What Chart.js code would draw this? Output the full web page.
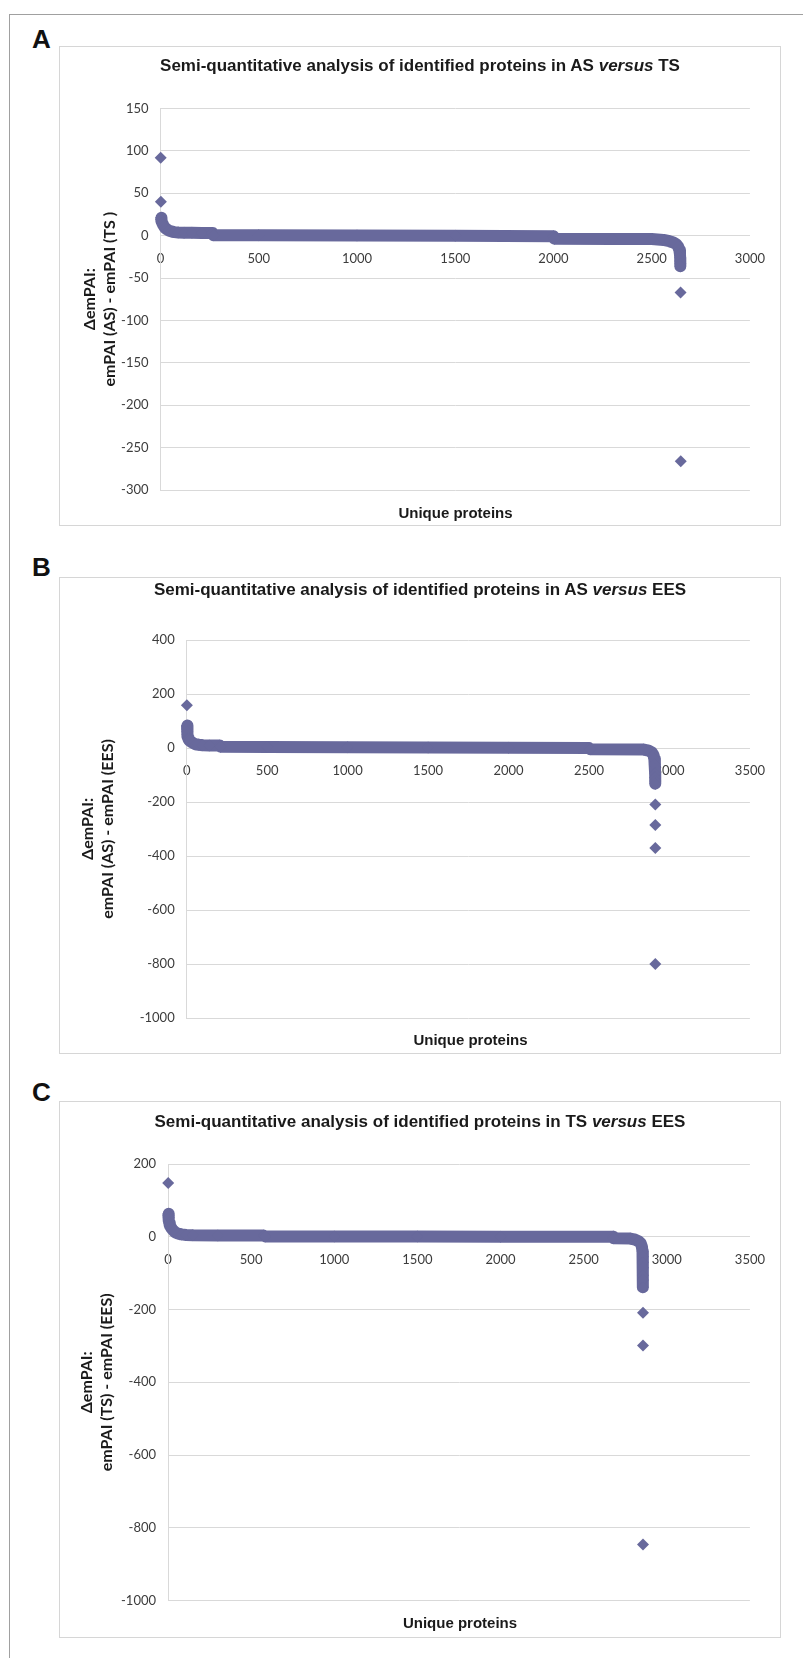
<!DOCTYPE html>
<html>
<head>
<meta charset="utf-8">
<title>Semi-quantitative analysis of identified proteins</title>
<script src="https://cdn.jsdelivr.net/npm/chart.js@4.4.1/dist/chart.umd.min.js"></script>
<style>
  body { margin: 0; background: #fff; }
  #page { position: relative; width: 803px; height: 1658px; overflow: hidden; }
  .frame { position: absolute; left: 9px; top: 14px; width: 900px; height: 1700px;
           border-left: 1px solid #a0a0a0; border-top: 1px solid #a0a0a0; }
  .letter { position: absolute; left: 32px; font: bold 26px/26px "Liberation Sans", Arial, sans-serif; color: #111; }
  .box { position: absolute; left: 59px; width: 720px; border: 1px solid #d6d6d6; background: #fff; }
  .box canvas { position: absolute; left: 0; top: 0; }
  .title { position: absolute; left: 0; width: 100%; text-align: center; color: #1a1a1a;
           font: bold 17px/20px "Liberation Sans Narrow", "Liberation Sans", Arial, sans-serif; }
  .xtitle { position: absolute; text-align: center; color: #1a1a1a;
            font: bold 15px/18px "Liberation Sans Narrow", "Liberation Sans", Arial, sans-serif; }
</style>
</head>
<body>
<div id="page">
  <div class="frame"></div>

  <div class="letter" style="top:26px">A</div>
  <div class="box" style="top:46px; height:478px">
    <canvas id="chartA" width="720" height="478"></canvas>
    <div class="title" style="top:9px">Semi-quantitative analysis of identified proteins in AS <i>versus</i> TS</div>
    <div class="xtitle" style="top:457px; left:100px; width:591px">Unique proteins</div>
  </div>

  <div class="letter" style="top:554px">B</div>
  <div class="box" style="top:577px; height:475px">
    <canvas id="chartB" width="720" height="475"></canvas>
    <div class="title" style="top:2px">Semi-quantitative analysis of identified proteins in AS <i>versus</i> EES</div>
    <div class="xtitle" style="top:453px; left:127px; width:567px">Unique proteins</div>
  </div>

  <div class="letter" style="top:1079px">C</div>
  <div class="box" style="top:1101px; height:535px">
    <canvas id="chartC" width="720" height="535"></canvas>
    <div class="title" style="top:10px">Semi-quantitative analysis of identified proteins in TS <i>versus</i> EES</div>
    <div class="xtitle" style="top:512px; left:108px; width:584px">Unique proteins</div>
  </div>
</div>

<script>
// marker colour and axis colours (Excel-like)
const markerColor = '#68699c';
const gridColor = '#d9d9d9';
const tickColor = '#3c3c3c';

// ---- panel A : AS versus TS ----
// proteins are ranked by their delta emPAI
const aRank  = [3, 4, 6, 9, 13, 18, 24, 32, 42, 55, 70, 90, 120, 160, 210, 265, 270, 500, 1000, 1500,
                2000, 2005, 2300, 2500, 2560, 2590, 2610, 2625, 2635, 2641, 2644, 2645, 2645, 2646, 2646];
const aDelta = [21, 19, 17, 15, 13, 11, 9, 7.5, 6, 5, 4.2, 3.8, 3.5, 3.3, 3.1, 3, 0.6, 0.4, 0.2, 0,
                -0.6, -3.5, -3.8, -4, -5, -6.5, -8, -10, -13, -17, -22, -26, -30, -33, -36];
const aOutRank  = [1, 2, 2647, 2648];
const aOutDelta = [92, 40, -67, -266];
const aTicksX = [0, 500, 1000, 1500, 2000, 2500, 3000];
const aTicksY = [-300, -250, -200, -150, -100, -50, 0, 50, 100, 150];

// ---- panel B : AS versus EES ----
const bRank  = [2, 3, 4, 5, 7, 9, 12, 16, 22, 30, 40, 55, 75, 100, 140, 205, 210, 500, 1000, 1500,
                2000, 2500, 2510, 2840, 2870, 2890, 2900, 2906, 2909, 2910, 2911, 2911, 2912, 2912];
const bDelta = [83, 70, 60, 50, 43, 37, 32, 28, 25, 22, 18, 14, 12, 10, 9.5, 9, 5, 4, 3, 2,
                1, 0, -5, -6, -10, -16, -25, -40, -60, -80, -95, -110, -122, -132];
const bOutRank  = [1, 2912, 2912, 2912, 2912];
const bOutDelta = [158, -209, -285, -370, -800];
const bTicksX = [0, 500, 1000, 1500, 2000, 2500, 3000, 3500];
const bTicksY = [-1000, -800, -600, -400, -200, 0, 200, 400];

// ---- panel C : TS versus EES ----
const cRank  = [2, 3, 4, 6, 8, 11, 15, 20, 27, 35, 45, 60, 80, 110, 150, 300, 575, 585, 1000, 1500,
                2000, 2677, 2680, 2780, 2810, 2830, 2843, 2850, 2854, 2856, 2856, 2856, 2856, 2856, 2856];
const cDelta = [63, 58, 52, 45, 38, 31, 28, 24, 20, 16, 12, 9, 6.5, 5, 4, 3.5, 3.2, 1, 0.8, 0.5,
                0.2, 0, -4, -5, -8, -12, -18, -27, -40, -55, -70, -85, -106, -119, -139];
const cOutRank  = [1, 2857, 2857, 2857];
const cOutDelta = [148, -209, -299, -846];
const cTicksX = [0, 500, 1000, 1500, 2000, 2500, 3000, 3500];
const cTicksY = [-1000, -800, -600, -400, -200, 0, 200];

// turn two arrays into {x, y} points
function toPoints(xs, ys) {
  return xs.map((x, i) => ({ x: x, y: ys[i] }));
}

// draws one panel
// p.axisWidth: width reserved for the y axis (title + labels)
// p.pad: layout padding around the plot area
// p.titlePad: distance from the left edge to the first y title line
function drawPanel(id, p) {
  const ctx = document.getElementById(id);
  const tickFont = { family: 'Lato', size: 13 };

  return new Chart(ctx, {
    type: 'scatter',
    data: {
      datasets: [
        {
          // the dense run of proteins, the markers overlap into a band
          data: toPoints(p.rank, p.delta),
          showLine: true,
          borderColor: markerColor,
          borderWidth: 12,
          borderJoinStyle: 'round',
          pointStyle: 'rectRot',
          pointRadius: 6,
          pointBorderWidth: 0,
          pointBackgroundColor: markerColor,
          clip: false
        },
        {
          // isolated proteins
          data: toPoints(p.outRank, p.outDelta),
          showLine: false,
          pointStyle: 'rectRot',
          pointRadius: 6,
          pointBorderWidth: 0,
          pointBackgroundColor: markerColor,
          clip: false
        }
      ]
    },
    options: {
      responsive: false,
      animation: false,
      events: [],
      layout: { padding: p.pad },
      plugins: {
        legend: { display: false },
        tooltip: { enabled: false }
      },
      scales: {
        x: {
          type: 'linear',
          position: { y: 0 },
          min: p.ticksX[0],
          max: p.ticksX[p.ticksX.length - 1],
          grid: { display: false, drawTicks: false },
          border: { display: true, color: gridColor },
          ticks: {
            stepSize: p.ticksX[1] - p.ticksX[0],
            autoSkip: false,
            maxRotation: 0,
            padding: 15,
            color: tickColor,
            font: tickFont,
            callback: (v) => String(v)
          }
        },
        y: {
          position: 'left',
          min: p.ticksY[0],
          max: p.ticksY[p.ticksY.length - 1],
          afterFit: (scale) => { scale.width = p.axisWidth; },
          grid: { color: gridColor, drawTicks: false },
          border: { display: true, color: gridColor },
          ticks: {
            stepSize: p.ticksY[1] - p.ticksY[0],
            padding: 12,
            color: tickColor,
            font: tickFont,
            callback: (v) => String(v)
          },
          title: {
            display: true,
            text: p.yTitle,
            color: '#1a1a1a',
            font: { family: 'Lato', size: 16, weight: 'bold', lineHeight: 20 / 16 },
            padding: { top: p.titlePad, bottom: 0 }
          }
        }
      }
    }
  });
}

drawPanel('chartA', {
  rank: aRank, delta: aDelta, outRank: aOutRank, outDelta: aOutDelta,
  ticksX: aTicksX, ticksY: aTicksY,
  yTitle: ['\u0394emPAI:', 'emPAI (AS) - emPAI (TS )'],
  axisWidth: 100.5, titlePad: 20,
  pad: { top: 61.5, right: 29, bottom: 35, left: 0 }
});

drawPanel('chartB', {
  rank: bRank, delta: bDelta, outRank: bOutRank, outDelta: bOutDelta,
  ticksX: bTicksX, ticksY: bTicksY,
  yTitle: ['\u0394emPAI:', 'emPAI (AS) - emPAI (EES)'],
  axisWidth: 126.7, titlePad: 17.5,
  pad: { top: 62, right: 26.5, bottom: 35, left: 0 }
});

drawPanel('chartC', {
  rank: cRank, delta: cDelta, outRank: cOutRank, outDelta: cOutDelta,
  ticksX: cTicksX, ticksY: cTicksY,
  yTitle: ['\u0394emPAI:', 'emPAI (TS) - emPAI (EES)'],
  axisWidth: 108, titlePad: 16.7,
  pad: { top: 62, right: 28, bottom: 36.4, left: 0 }
});
</script>
</body>
</html>
